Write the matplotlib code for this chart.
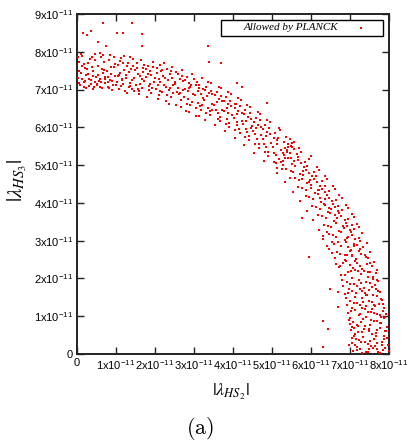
import numpy as np
import matplotlib
matplotlib.use("Agg")
import matplotlib.pyplot as plt
from matplotlib.patches import Rectangle

plt.rcParams['font.family'] = ['Liberation Sans', 'DejaVu Sans']
plt.rcParams['mathtext.fontset'] = 'custom'
plt.rcParams['mathtext.rm'] = 'Liberation Sans'
plt.rcParams['mathtext.it'] = 'Liberation Sans:italic'

# values in units of 1e-11 : (|lambda_HS2|, |lambda_HS3|)
upper_band = [
    (0.02,7.31),(0.05,7.72),(0.08,7.12),(0.11,7.45),(0.14,7.88),(0.17,7.21),(0.20,7.58),(0.23,7.04),(0.04,7.50),(0.09,7.95),(0.13,7.28),(0.18,7.67),(0.22,7.38),(0.06,7.18),
    (0.27,7.42),(0.30,7.09),(0.33,7.81),(0.36,7.25),(0.39,7.60),(0.42,7.02),(0.45,7.93),(0.48,7.34),(0.29,7.71),(0.35,7.15),(0.41,7.49),(0.46,7.20),(0.38,7.87),
    (0.52,7.11),(0.55,7.62),(0.58,7.29),(0.61,7.85),(0.64,7.03),(0.67,7.44),(0.70,7.74),(0.73,7.17),(0.54,7.38),(0.60,7.06),(0.66,7.91),(0.71,7.33),(0.63,7.55),(0.57,7.22),
    (0.76,7.48),(0.79,7.08),(0.82,7.77),(0.85,7.26),(0.88,7.59),(0.91,6.98),(0.94,7.86),(0.97,7.36),(0.80,7.19),(0.87,7.42),(0.93,7.13),(0.98,7.68),(0.84,7.92),
    (1.02,7.21),(1.05,7.66),(1.08,7.01),(1.11,7.43),(1.14,7.84),(1.17,7.15),(1.20,7.52),(1.23,6.95),(1.04,7.35),(1.10,7.76),(1.16,7.28),(1.21,7.88),(1.13,7.09),
    (1.26,7.39),(1.29,6.91),(1.32,7.71),(1.35,7.18),(1.38,7.55),(1.41,7.02),(1.44,7.82),(1.47,7.31),(1.28,7.62),(1.34,7.46),(1.40,7.24),(1.46,6.97),(1.37,7.85),
    (1.52,7.12),(1.55,7.58),(1.58,6.88),(1.61,7.36),(1.64,7.77),(1.67,7.05),(1.70,7.47),(1.73,7.22),(1.54,7.69),(1.60,6.95),(1.66,7.29),(1.72,7.64),(1.57,7.41),
    (1.76,7.34),(1.79,6.81),(1.82,7.63),(1.85,7.09),(1.88,7.48),(1.91,6.92),(1.94,7.72),(1.97,7.21),(1.78,7.55),(1.84,7.00),(1.90,7.38),(1.96,7.61),(1.87,7.15),
    (2.02,7.02),(2.05,7.44),(2.08,6.76),(2.11,7.27),(2.14,7.66),(2.17,6.93),(2.20,7.35),(2.23,7.11),(2.04,7.58),(2.10,6.85),(2.16,7.50),(2.22,7.69),(2.13,7.19),
    (2.26,7.31),(2.29,6.70),(2.32,7.55),(2.35,6.98),(2.38,7.42),(2.41,6.81),(2.44,7.60),(2.47,7.12),(2.28,7.06),(2.34,7.24),(2.40,7.50),(2.46,6.90),(2.37,6.63),
    (2.52,7.15),(2.55,6.60),(2.58,7.40),(2.61,6.87),(2.64,7.28),(2.67,6.53),(2.70,7.51),(2.73,6.99),(2.54,7.46),(2.60,7.05),(2.66,6.73),(2.72,7.22),(2.63,6.92),
    (2.76,7.01),(2.79,6.44),(2.82,7.33),(2.85,6.76),(2.88,7.18),(2.91,6.58),(2.94,7.42),(2.97,6.89),(2.78,7.25),(2.84,6.95),(2.90,7.08),(2.96,6.67),(2.87,6.41),
    (3.02,6.86),(3.05,6.31),(3.08,7.21),(3.11,6.64),(3.14,7.05),(3.17,6.45),(3.20,7.31),(3.23,6.77),(3.04,7.12),(3.10,6.95),(3.16,6.56),(3.22,7.02),(3.13,6.29),
    (3.26,6.72),(3.29,6.19),(3.32,7.08),(3.35,6.51),(3.38,6.91),(3.41,6.33),(3.44,7.17),(3.47,6.62),(3.28,6.98),(3.34,6.84),(3.40,6.42),(3.46,6.88),(3.37,7.21),
    (3.52,6.58),(3.55,6.05),(3.58,6.94),(3.61,6.37),(3.64,6.76),(3.67,6.18),(3.70,7.03),(3.73,6.47),(3.54,6.85),(3.60,6.66),(3.66,6.27),(3.72,6.71),(3.63,7.08),
    (3.76,6.42),(3.79,5.90),(3.82,6.79),(3.85,6.21),(3.88,6.61),(3.91,6.02),(3.94,6.88),(3.97,6.33),(3.78,6.69),(3.84,6.51),(3.90,6.12),(3.96,6.56),(3.87,6.94),
    (4.02,6.25),(4.05,5.72),(4.08,6.63),(4.11,6.05),(4.14,6.44),(4.17,5.85),(4.20,6.72),(4.23,6.16),(4.04,6.52),(4.10,6.34),(4.16,5.95),(4.22,6.39),(4.13,6.78),
    (4.26,6.08),(4.29,5.53),(4.32,6.46),(4.35,5.87),(4.38,6.27),(4.41,5.66),(4.44,6.55),(4.47,5.98),(4.28,6.35),(4.34,6.17),(4.40,5.77),(4.46,6.21),(4.37,6.60),
    (4.52,5.89),(4.55,5.33),(4.58,6.26),(4.61,5.68),(4.64,6.07),(4.67,5.46),(4.70,6.35),(4.73,5.79),(4.54,6.15),(4.60,5.97),(4.66,5.57),(4.72,6.02),(4.63,6.41),
    (4.76,5.70),(4.79,5.12),(4.82,6.06),(4.85,5.47),(4.88,5.87),(4.91,5.25),(4.94,6.14),(4.97,5.58),(4.78,5.95),(4.84,5.78),(4.90,5.36),(4.96,5.82),(4.87,6.20),
    (5.02,5.49),(5.05,5.08),(5.08,5.84),(5.11,5.27),(5.14,5.66),(5.17,5.15),(5.20,5.93),(5.23,5.39),(5.06,5.73),(5.12,5.55),(5.18,5.98),
    (5.27,5.31),(5.30,5.62),(5.33,5.44),(5.36,5.74),(5.39,5.36),(5.42,5.55),(5.45,5.69),(5.48,5.50),
    (5.52,5.58),(5.57,5.61),
]

lower_band = [
    (7.31,0.02),(7.72,0.05),(7.08,0.09),(7.49,0.12),(7.90,0.15),(7.19,0.18),(7.63,0.21),(7.97,0.24),(7.40,0.06),(7.85,0.10),(7.26,0.14),(7.55,0.20),(7.12,0.23),(7.78,0.03),
    (7.45,0.27),(7.04,0.30),(7.83,0.33),(7.22,0.36),(7.61,0.39),(7.95,0.42),(7.33,0.45),(7.10,0.48),(7.70,0.29),(7.51,0.35),(7.88,0.47),(7.16,0.41),(7.39,0.32),
    (7.14,0.52),(7.66,0.55),(7.30,0.58),(7.89,0.61),(7.02,0.64),(7.48,0.67),(7.77,0.70),(7.21,0.73),(7.57,0.54),(7.93,0.60),(7.37,0.66),(7.06,0.71),(7.70,0.63),
    (7.52,0.76),(7.01,0.79),(7.80,0.82),(7.27,0.85),(7.62,0.88),(6.97,0.91),(7.88,0.94),(7.41,0.97),(7.18,0.78),(7.70,0.87),(7.34,0.93),(7.91,0.99),(7.08,0.84),
    (7.23,1.02),(7.68,1.05),(6.95,1.08),(7.46,1.11),(7.85,1.14),(7.12,1.17),(7.57,1.20),(7.32,1.23),(7.77,1.04),(7.03,1.13),(7.39,1.19),(7.88,1.22),(7.61,1.09),
    (7.42,1.26),(6.92,1.29),(7.74,1.32),(7.19,1.35),(7.56,1.38),(7.01,1.41),(7.83,1.44),(7.30,1.47),(7.65,1.28),(7.10,1.34),(7.48,1.40),(7.79,1.46),(7.25,1.31),
    (7.14,1.52),(7.60,1.55),(6.87,1.58),(7.38,1.61),(7.78,1.64),(7.05,1.67),(7.49,1.70),(7.25,1.73),(7.70,1.54),(6.96,1.62),(7.31,1.68),(7.66,1.72),(7.44,1.57),
    (7.36,1.76),(6.82,1.79),(7.65,1.82),(7.10,1.85),(7.50,1.88),(6.93,1.91),(7.73,1.94),(7.22,1.97),(7.57,1.78),(7.01,1.84),(7.41,1.90),(7.68,1.96),(7.17,1.80),
    (7.04,2.02),(7.46,2.05),(6.78,2.08),(7.29,2.11),(7.67,2.14),(6.94,2.17),(7.37,2.20),(7.13,2.23),(7.59,2.04),(6.86,2.10),(7.52,2.16),(7.20,2.19),(7.69,2.22),
    (7.32,2.26),(6.71,2.29),(7.56,2.32),(6.99,2.35),(7.43,2.38),(6.82,2.41),(7.61,2.44),(7.14,2.47),(7.08,2.28),(7.25,2.34),(7.51,2.40),(6.91,2.46),(6.63,2.37),
    (7.16,2.52),(6.61,2.55),(7.41,2.58),(6.88,2.61),(7.29,2.64),(6.54,2.67),(7.52,2.70),(7.00,2.73),(7.47,2.54),(7.06,2.60),(6.74,2.66),(7.23,2.72),(6.93,2.63),
    (7.02,2.76),(6.45,2.79),(7.34,2.82),(6.77,2.85),(7.19,2.88),(6.59,2.91),(7.43,2.94),(6.90,2.97),(7.26,2.78),(6.96,2.84),(7.09,2.90),(6.68,2.96),(6.42,2.87),
    (6.87,3.02),(6.32,3.05),(7.22,3.08),(6.65,3.11),(7.06,3.14),(6.46,3.17),(7.32,3.20),(6.78,3.23),(7.13,3.04),(6.96,3.10),(6.57,3.16),(7.03,3.22),(6.30,3.13),
    (6.73,3.26),(6.20,3.29),(7.09,3.32),(6.52,3.35),(6.92,3.38),(6.34,3.41),(7.18,3.44),(6.63,3.47),(6.99,3.28),(6.85,3.34),(6.43,3.40),(6.89,3.46),(7.22,3.37),
    (6.59,3.52),(6.06,3.55),(6.95,3.58),(6.38,3.61),(6.77,3.64),(6.19,3.67),(7.04,3.70),(6.48,3.73),(6.86,3.54),(6.67,3.60),(6.28,3.66),(6.72,3.72),(7.09,3.63),
    (6.43,3.76),(5.91,3.79),(6.80,3.82),(6.22,3.85),(6.62,3.88),(6.03,3.91),(6.89,3.94),(6.34,3.97),(6.70,3.78),(6.52,3.84),(6.13,3.90),(6.57,3.96),(6.95,3.87),
    (6.26,4.02),(5.73,4.05),(6.64,4.08),(6.06,4.11),(6.45,4.14),(5.86,4.17),(6.73,4.20),(6.17,4.23),(6.53,4.04),(6.35,4.10),(5.96,4.16),(6.40,4.22),(6.79,4.13),
    (6.09,4.26),(5.54,4.29),(6.47,4.32),(5.88,4.35),(6.28,4.38),(5.67,4.41),(6.56,4.44),(5.99,4.47),(6.36,4.28),(6.18,4.34),(5.78,4.40),(6.22,4.46),(6.61,4.37),
    (5.90,4.52),(5.34,4.55),(6.27,4.58),(5.69,4.61),(6.08,4.64),(5.47,4.67),(6.36,4.70),(5.80,4.73),(6.16,4.54),(5.98,4.60),(5.58,4.66),(6.03,4.72),(6.42,4.63),
    (5.71,4.76),(5.13,4.79),(6.07,4.82),(5.48,4.85),(5.88,4.88),(5.26,4.91),(6.15,4.94),(5.59,4.97),(5.96,4.78),(5.79,4.84),(5.37,4.90),(5.83,4.96),(6.21,4.87),
    (5.50,5.02),(5.09,5.05),(5.85,5.08),(5.28,5.11),(5.67,5.14),(5.94,5.17),(5.40,5.20),(5.74,5.06),(5.57,5.12),(5.99,5.23),(5.33,5.18),
    (5.32,5.27),(5.63,5.30),(5.45,5.33),(5.75,5.36),(5.38,5.39),(5.56,5.42),(5.70,5.45),(5.51,5.48),
]

extra_band = [
    (0.12,7.62),(0.31,7.27),(0.47,7.78),(0.19,7.07),(0.68,7.52),(0.83,7.04),(0.95,7.61),(1.07,7.39),
    (1.19,7.71),(1.33,7.07),(1.49,7.52),(1.62,7.14),(1.81,7.42),(1.93,7.05),(0.40,7.36),(0.58,7.97),
    (0.73,7.27),(1.25,7.30),(1.43,7.63),(1.69,7.57),(0.03,7.85),(0.26,7.55),(0.89,7.23),(1.56,7.01),
    (1.99,7.31),(0.50,7.14),(0.62,7.19),(0.79,7.33),(1.01,7.12),(1.15,7.26),(1.36,7.10),(0.21,7.23),
    (0.44,7.06),
    (2.07,7.13),(2.19,7.53),(2.31,6.86),(2.43,7.31),(2.56,6.94),(2.68,7.36),(2.81,6.62),(2.93,7.12),
    (3.06,6.51),(3.18,6.89),(3.30,6.37),(3.43,6.97),(2.12,6.97),(2.50,7.21),(2.74,6.80),(2.99,7.29),
    (3.21,6.60),(3.45,6.45),(2.39,7.05),(2.86,7.04),(3.12,7.13),
    (3.57,6.47),(3.69,6.84),(3.81,6.08),(3.93,6.70),(4.06,5.93),(4.19,6.56),(4.31,5.74),(4.43,6.38),
    (4.56,5.55),(4.68,6.19),(4.81,5.36),(4.93,5.98),(3.62,6.22),(3.86,6.37),(4.09,6.14),(4.33,5.95),
    (4.57,5.82),(4.80,5.55),(4.05,6.62),(4.49,6.03),
    (5.04,5.31),(5.16,5.72),(5.29,4.99),(5.41,5.47),(5.53,4.81),(5.66,5.21),(5.78,4.62),(5.89,4.98),
    (6.01,4.39),(6.13,4.71),(6.24,4.12),(6.35,4.45),(5.22,5.09),(5.60,4.97),(5.95,4.56),(6.20,4.33),
    (5.48,5.18),(5.12,4.93),
    (6.47,3.86),(6.58,3.51),(6.69,3.92),(6.41,3.24),(6.81,3.39),(6.53,2.97),(6.92,3.08),(7.05,3.41),
    (6.66,2.71),(7.11,2.85),(6.74,2.33),(7.26,2.98),(6.87,2.49),(7.38,2.61),(7.02,2.19),(6.79,1.96),
    (7.17,2.42),(7.45,2.17),(6.98,1.73),(7.29,1.88),(7.58,1.99),(6.91,1.47),(7.42,1.56),(7.71,1.67),
    (7.06,2.63),(6.62,3.68),(6.36,3.95),
    (7.05,1.21),(7.33,1.37),(7.62,1.29),(7.84,1.33),(6.99,0.96),(7.26,1.06),(7.53,0.91),(7.79,0.98),
    (7.96,0.71),(7.11,0.68),(7.38,0.74),(7.66,0.48),(7.87,0.39),(7.04,0.42),(7.29,0.33),(7.58,0.17),
    (7.82,0.24),(7.99,0.08),(7.17,0.11),(7.45,0.04),(7.70,0.12),(7.21,0.57),(7.49,0.62),(7.76,0.81),
    (6.98,0.25),(7.93,1.07),(7.15,1.61),(7.55,1.12),
]

outliers = [
    (0.15,8.49),(0.26,8.44),(0.36,8.54),(0.67,8.76),(0.54,8.26),(0.75,8.15),(1.03,8.49),
    (1.18,8.49),(1.41,8.76),(1.67,8.47),(1.67,8.15),(3.37,8.15),(3.39,7.72),(3.68,7.70),
    (4.11,7.17),(4.22,7.06),(4.86,6.64),(5.78,3.60),(5.94,2.57),(6.48,1.72),(6.68,1.64),
    (6.30,0.87),(6.43,0.66),(6.30,0.19),(6.68,1.24),
]

scale = 1e-11
xticks = [0, 1, 2, 3, 4, 5, 6, 7, 8]
yticks = [0, 1, 2, 3, 4, 5, 6, 7, 8, 9]
legend_label = "Allowed by PLANCK"

pts = np.array(upper_band + lower_band + extra_band + outliers) * scale

fig = plt.figure(figsize=(4.08, 4.47), dpi=100)
ax = fig.add_axes([77/408, 1 - 354/447, 312/408, 340/447])

ax.scatter(pts[:, 0], pts[:, 1], s=3.0, marker='s', c='#ff0000', linewidths=0, zorder=3)

ax.set_xlim(0, 8 * scale)
ax.set_ylim(0, 9 * scale)

def fmt(v):
    return '0' if v == 0 else r'$\mathregular{%dx10^{-11}}$' % v

ax.set_xticks([t * scale for t in xticks])
ax.set_xticklabels([fmt(t) for t in xticks])
ax.set_yticks([t * scale for t in yticks])
ax.set_yticklabels([fmt(t) for t in yticks])
ax.tick_params(direction='in', length=5, width=1, top=True, right=True,
               labelsize=8.0, pad=3, colors='#222222')
for lab in ax.get_xticklabels() + ax.get_yticklabels():
    lab.set_color('black')
for sp in ax.spines.values():
    sp.set_linewidth(1.4)
    sp.set_color('#222222')

# legend box
ax.add_patch(Rectangle(((221 - 77) / 312, (354 - 36) / 340), 162 / 312, 16 / 340,
                       transform=ax.transAxes, fill=True, facecolor='white',
                       edgecolor='black', linewidth=1.0, zorder=5, clip_on=False))
ax.text((338 - 77) / 312, (354 - 28) / 340, legend_label, transform=ax.transAxes,
        ha='right', va='center', fontsize=8, family='Liberation Serif',
        style='italic', zorder=6)
ax.scatter([(361 - 77) / 312], [(354 - 28) / 340], s=3.0, marker='s', c='#ff0000',
           linewidths=0, transform=ax.transAxes, zorder=6, clip_on=False)

fig.text(231 / 408, 1 - 392 / 447, r'$|\lambda_{HS_2}|$', ha='center', va='center',
         fontsize=13, math_fontfamily='stix')
fig.text(17 / 408, 1 - 181 / 447, r'$|\lambda_{HS_3}|$', ha='center', va='center',
         fontsize=15, math_fontfamily='stix', rotation=90)
fig.text(200 / 408, 1 - 429 / 447, r'$\mathrm{(a)}$', ha='center', va='center',
         fontsize=16, math_fontfamily='cm')

fig.savefig('out.png', dpi=100)
